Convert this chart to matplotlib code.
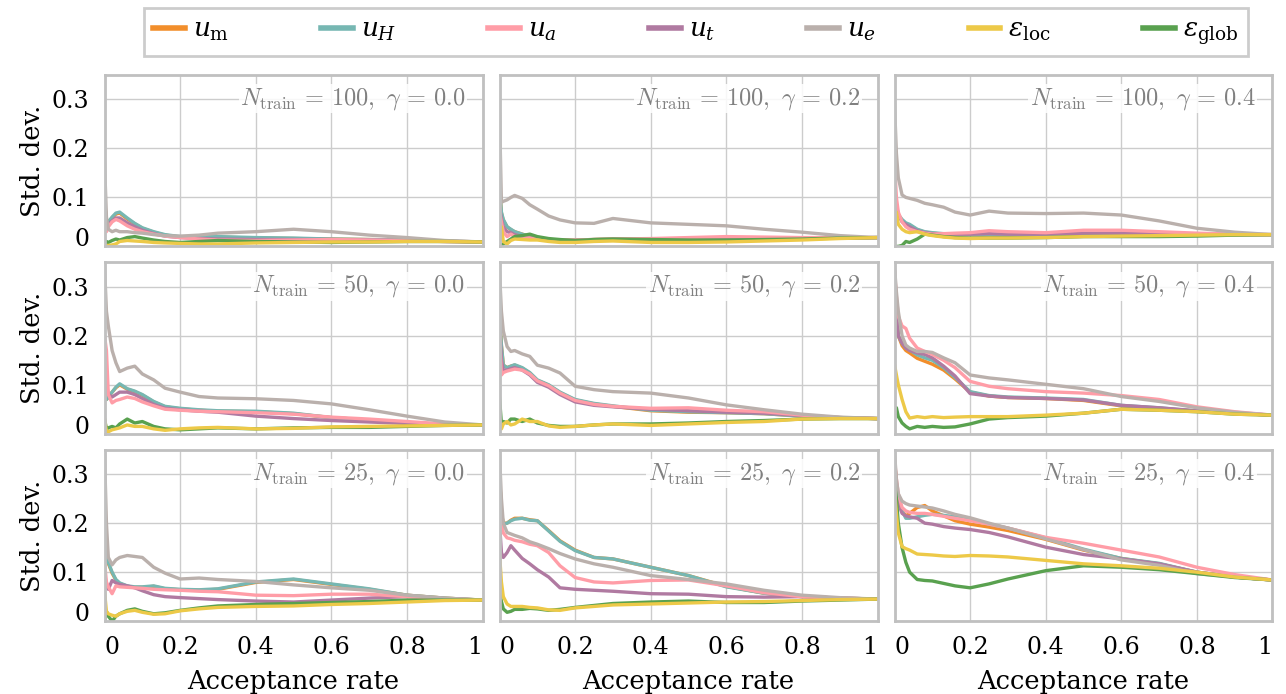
import matplotlib.pyplot as plt
from matplotlib.lines import Line2D

# acceptance rate grid (shared by all panels)
rate = [0, .005, .01, .02, .03, .04, .06, .08, .1, .13, .16, .2, .25, .3, .4, .5, .6, .7, .8, .9, 1.0]

# N_train = 100, gamma = 0.0
a100_00_um = [0.10, 0.045, 0.05, 0.058, 0.066, 0.068, 0.056, 0.046, 0.037, 0.029, 0.023, 0.019, 0.019, 0.019, 0.017, 0.016, 0.015, 0.014, 0.013, 0.011, 0.009]
a100_00_uH = [0.10, 0.04, 0.05, 0.06, 0.068, 0.07, 0.058, 0.047, 0.038, 0.03, 0.024, 0.02, 0.02, 0.02, 0.018, 0.017, 0.015, 0.014, 0.013, 0.011, 0.009]
a100_00_ua = [0.09, 0.03, 0.04, 0.05, 0.055, 0.052, 0.042, 0.035, 0.03, 0.025, 0.021, 0.018, 0.015, 0.013, 0.012, 0.013, 0.014, 0.013, 0.012, 0.01, 0.009]
a100_00_ut = [0.09, 0.035, 0.045, 0.052, 0.058, 0.058, 0.048, 0.04, 0.033, 0.026, 0.021, 0.018, 0.016, 0.015, 0.014, 0.014, 0.014, 0.013, 0.012, 0.01, 0.009]
a100_00_ue = [0.17, 0.06, 0.035, 0.03, 0.033, 0.03, 0.03, 0.028, 0.027, 0.024, 0.022, 0.021, 0.023, 0.027, 0.03, 0.035, 0.03, 0.023, 0.018, 0.012, 0.009]
a100_00_el = [0.0, 0.002, 0.002, 0.003, 0.005, 0.01, 0.012, 0.011, 0.01, 0.008, 0.007, 0.006, 0.005, 0.005, 0.007, 0.008, 0.009, 0.009, 0.01, 0.01, 0.009]
a100_00_eg = [0.0, 0.01, 0.008, 0.012, 0.015, 0.013, 0.018, 0.02, 0.017, 0.013, 0.01, 0.008, 0.01, 0.012, 0.01, 0.009, 0.008, 0.009, 0.01, 0.01, 0.009]

# N_train = 100, gamma = 0.2
a100_02_um = [0.12, 0.068, 0.053, 0.04, 0.034, 0.03, 0.025, 0.02, 0.018, 0.014, 0.012, 0.013, 0.014, 0.015, 0.014, 0.013, 0.014, 0.015, 0.016, 0.017, 0.018]
a100_02_uH = [0.12, 0.07, 0.055, 0.04, 0.035, 0.03, 0.025, 0.02, 0.018, 0.014, 0.012, 0.013, 0.014, 0.015, 0.014, 0.013, 0.014, 0.015, 0.016, 0.017, 0.018]
a100_02_ua = [0.07, 0.05, 0.03, 0.02, 0.025, 0.02, 0.018, 0.017, 0.016, 0.014, 0.013, 0.013, 0.014, 0.015, 0.016, 0.018, 0.02, 0.019, 0.018, 0.018, 0.018]
a100_02_ut = [0.08, 0.055, 0.04, 0.03, 0.028, 0.024, 0.02, 0.018, 0.016, 0.014, 0.012, 0.012, 0.013, 0.014, 0.014, 0.014, 0.015, 0.016, 0.016, 0.017, 0.018]
a100_02_ue = [0.27, 0.09, 0.092, 0.095, 0.1, 0.104, 0.098, 0.085, 0.076, 0.062, 0.054, 0.048, 0.047, 0.057, 0.048, 0.045, 0.042, 0.035, 0.029, 0.022, 0.018]
a100_02_el = [0.01, 0.04, 0.01, 0.005, 0.012, 0.015, 0.014, 0.013, 0.013, 0.01, 0.008, 0.008, 0.01, 0.011, 0.008, 0.008, 0.009, 0.011, 0.013, 0.016, 0.018]
a100_02_eg = [0.0, 0.002, 0.005, 0.01, 0.015, 0.02, 0.022, 0.025, 0.02, 0.016, 0.014, 0.012, 0.014, 0.015, 0.014, 0.013, 0.013, 0.014, 0.015, 0.017, 0.018]

# N_train = 100, gamma = 0.4
a100_04_um = [0.1, 0.078, 0.063, 0.053, 0.046, 0.043, 0.034, 0.029, 0.027, 0.025, 0.024, 0.024, 0.023, 0.022, 0.023, 0.024, 0.025, 0.025, 0.025, 0.024, 0.024]
a100_04_uH = [0.1, 0.08, 0.065, 0.055, 0.048, 0.045, 0.035, 0.03, 0.028, 0.026, 0.025, 0.025, 0.024, 0.023, 0.024, 0.025, 0.026, 0.025, 0.025, 0.024, 0.024]
a100_04_ua = [0.17, 0.1, 0.07, 0.05, 0.04, 0.035, 0.03, 0.027, 0.025, 0.026, 0.027, 0.028, 0.032, 0.03, 0.028, 0.033, 0.033, 0.03, 0.027, 0.025, 0.024]
a100_04_ut = [0.12, 0.085, 0.065, 0.05, 0.045, 0.04, 0.032, 0.028, 0.026, 0.025, 0.025, 0.025, 0.026, 0.025, 0.025, 0.027, 0.027, 0.026, 0.025, 0.024, 0.024]
a100_04_ue = [0.29, 0.19, 0.14, 0.105, 0.1, 0.098, 0.094, 0.088, 0.085, 0.08, 0.07, 0.064, 0.072, 0.068, 0.067, 0.068, 0.064, 0.052, 0.037, 0.029, 0.024]
a100_04_el = [0.05, 0.07, 0.045, 0.035, 0.03, 0.028, 0.03, 0.025, 0.022, 0.019, 0.017, 0.016, 0.017, 0.017, 0.018, 0.02, 0.021, 0.022, 0.023, 0.024, 0.024]
a100_04_eg = [0.0, 0.0, 0.0, 0.002, 0.01, 0.008, 0.015, 0.025, 0.023, 0.02, 0.018, 0.017, 0.017, 0.017, 0.018, 0.02, 0.02, 0.02, 0.021, 0.023, 0.024]

# N_train = 50, gamma = 0.0
a50_00_um = [0.135, 0.07, 0.075, 0.085, 0.094, 0.1, 0.091, 0.086, 0.079, 0.065, 0.055, 0.051, 0.048, 0.046, 0.045, 0.041, 0.033, 0.028, 0.023, 0.019, 0.018]
a50_00_uH = [0.137, 0.07, 0.075, 0.085, 0.095, 0.102, 0.092, 0.087, 0.08, 0.066, 0.056, 0.052, 0.049, 0.047, 0.046, 0.042, 0.033, 0.028, 0.023, 0.019, 0.018]
a50_00_ua = [0.2, 0.17, 0.08, 0.063, 0.068, 0.07, 0.075, 0.072, 0.065, 0.057, 0.05, 0.048, 0.046, 0.045, 0.043, 0.04, 0.034, 0.03, 0.025, 0.02, 0.018]
a50_00_ut = [0.15, 0.1, 0.08, 0.075, 0.08, 0.085, 0.085, 0.08, 0.072, 0.06, 0.052, 0.049, 0.046, 0.044, 0.036, 0.031, 0.027, 0.024, 0.021, 0.019, 0.018]
a50_00_ue = [0.34, 0.25, 0.22, 0.17, 0.145, 0.127, 0.134, 0.138, 0.122, 0.11, 0.093, 0.085, 0.076, 0.073, 0.0715, 0.068, 0.061, 0.049, 0.036, 0.024, 0.018]
a50_00_el = [0.03, 0.005, 0.004, 0.008, 0.01, 0.012, 0.018, 0.015, 0.015, 0.01, 0.007, 0.01, 0.012, 0.013, 0.01, 0.011, 0.014, 0.015, 0.016, 0.017, 0.018]
a50_00_eg = [0.03, 0.01, 0.012, 0.015, 0.012, 0.02, 0.03, 0.022, 0.025, 0.015, 0.01, 0.008, 0.01, 0.012, 0.01, 0.012, 0.013, 0.013, 0.015, 0.017, 0.018]

# N_train = 50, gamma = 0.2
a50_02_um = [0.24, 0.18, 0.14, 0.135, 0.138, 0.14, 0.134, 0.124, 0.109, 0.099, 0.084, 0.069, 0.061, 0.056, 0.047, 0.044, 0.043, 0.041, 0.036, 0.033, 0.031]
a50_02_uH = [0.24, 0.18, 0.14, 0.135, 0.138, 0.141, 0.135, 0.125, 0.11, 0.1, 0.085, 0.07, 0.062, 0.057, 0.048, 0.045, 0.043, 0.041, 0.036, 0.033, 0.031]
a50_02_ua = [0.2, 0.12, 0.125, 0.128, 0.13, 0.132, 0.13, 0.122, 0.108, 0.098, 0.083, 0.068, 0.06, 0.056, 0.052, 0.053, 0.048, 0.045, 0.038, 0.033, 0.031]
a50_02_ut = [0.22, 0.15, 0.13, 0.13, 0.133, 0.135, 0.13, 0.12, 0.105, 0.095, 0.08, 0.065, 0.058, 0.055, 0.05, 0.047, 0.044, 0.042, 0.037, 0.033, 0.031]
a50_02_ue = [0.33, 0.25, 0.21, 0.178, 0.168, 0.17, 0.163, 0.158, 0.14, 0.134, 0.124, 0.097, 0.09, 0.086, 0.083, 0.073, 0.059, 0.049, 0.04, 0.034, 0.031]
a50_02_el = [0.03, 0.01, 0.02, 0.025, 0.018, 0.02, 0.03, 0.025, 0.025, 0.016, 0.013, 0.015, 0.018, 0.02, 0.017, 0.02, 0.023, 0.025, 0.03, 0.031, 0.031]
a50_02_eg = [0.073, 0.02, 0.025, 0.022, 0.03, 0.03, 0.025, 0.03, 0.022, 0.017, 0.015, 0.015, 0.018, 0.02, 0.02, 0.022, 0.025, 0.027, 0.03, 0.031, 0.031]

# N_train = 50, gamma = 0.4
a50_04_um = [0.33, 0.25, 0.2, 0.18, 0.17, 0.165, 0.154, 0.148, 0.142, 0.13, 0.112, 0.085, 0.077, 0.074, 0.072, 0.068, 0.057, 0.052, 0.046, 0.042, 0.038]
a50_04_uH = [0.33, 0.25, 0.2, 0.185, 0.175, 0.171, 0.161, 0.155, 0.15, 0.135, 0.115, 0.086, 0.078, 0.075, 0.073, 0.07, 0.058, 0.053, 0.046, 0.042, 0.038]
a50_04_ua = [0.33, 0.28, 0.24, 0.22, 0.215, 0.195, 0.175, 0.168, 0.162, 0.15, 0.135, 0.107, 0.097, 0.092, 0.086, 0.083, 0.078, 0.07, 0.055, 0.045, 0.038]
a50_04_ut = [0.33, 0.25, 0.2, 0.185, 0.175, 0.17, 0.165, 0.162, 0.155, 0.138, 0.118, 0.082, 0.077, 0.074, 0.072, 0.069, 0.058, 0.053, 0.047, 0.042, 0.038]
a50_04_ue = [0.34, 0.29, 0.25, 0.2, 0.181, 0.175, 0.168, 0.168, 0.166, 0.155, 0.145, 0.12, 0.114, 0.11, 0.101, 0.092, 0.076, 0.066, 0.053, 0.044, 0.038]
a50_04_el = [0.141, 0.12, 0.1, 0.07, 0.045, 0.032, 0.035, 0.033, 0.035, 0.033, 0.034, 0.035, 0.035, 0.035, 0.038, 0.042, 0.05, 0.048, 0.045, 0.04, 0.038]
a50_04_eg = [0.04, 0.053, 0.035, 0.022, 0.015, 0.01, 0.015, 0.013, 0.015, 0.013, 0.014, 0.02, 0.03, 0.033, 0.036, 0.042, 0.05, 0.048, 0.045, 0.04, 0.038]

# N_train = 25, gamma = 0.0
a25_00_um = [0.16, 0.128, 0.118, 0.098, 0.084, 0.077, 0.071, 0.069, 0.069, 0.071, 0.066, 0.064, 0.063, 0.065, 0.079, 0.085, 0.075, 0.065, 0.053, 0.047, 0.043]
a25_00_uH = [0.164, 0.13, 0.12, 0.1, 0.085, 0.078, 0.072, 0.07, 0.07, 0.072, 0.067, 0.065, 0.064, 0.066, 0.08, 0.086, 0.076, 0.066, 0.053, 0.047, 0.043]
a25_00_ua = [0.12, 0.08, 0.07, 0.056, 0.072, 0.07, 0.069, 0.068, 0.067, 0.065, 0.064, 0.063, 0.061, 0.06, 0.053, 0.052, 0.055, 0.055, 0.05, 0.045, 0.043]
a25_00_ut = [0.1, 0.07, 0.065, 0.083, 0.078, 0.075, 0.072, 0.068, 0.062, 0.054, 0.05, 0.048, 0.046, 0.044, 0.041, 0.039, 0.043, 0.047, 0.05, 0.046, 0.043]
a25_00_ue = [0.34, 0.2, 0.13, 0.115, 0.125, 0.13, 0.134, 0.132, 0.13, 0.11, 0.098, 0.086, 0.088, 0.085, 0.081, 0.074, 0.068, 0.063, 0.053, 0.047, 0.043]
a25_00_el = [0.06, 0.02, 0.015, 0.012, 0.01, 0.015, 0.02, 0.022, 0.018, 0.014, 0.015, 0.021, 0.025, 0.028, 0.03, 0.031, 0.034, 0.036, 0.039, 0.042, 0.043]
a25_00_eg = [0.0, 0.02, 0.01, 0.0, 0.01, 0.015, 0.022, 0.025, 0.02, 0.015, 0.017, 0.022, 0.027, 0.031, 0.034, 0.036, 0.038, 0.04, 0.043, 0.043, 0.043]

# N_train = 25, gamma = 0.2
a25_02_um = [0.3, 0.22, 0.2, 0.2, 0.206, 0.21, 0.21, 0.207, 0.205, 0.185, 0.164, 0.145, 0.13, 0.127, 0.11, 0.093, 0.071, 0.057, 0.05, 0.047, 0.045]
a25_02_uH = [0.3, 0.22, 0.198, 0.2, 0.205, 0.208, 0.21, 0.206, 0.205, 0.184, 0.163, 0.144, 0.13, 0.127, 0.11, 0.093, 0.07, 0.057, 0.05, 0.047, 0.045]
a25_02_ua = [0.25, 0.2, 0.18, 0.17, 0.168, 0.165, 0.162, 0.157, 0.154, 0.14, 0.113, 0.089, 0.08, 0.078, 0.083, 0.084, 0.072, 0.058, 0.05, 0.047, 0.045]
a25_02_ut = [0.2, 0.14, 0.13, 0.14, 0.154, 0.145, 0.128, 0.117, 0.105, 0.09, 0.068, 0.065, 0.063, 0.061, 0.056, 0.055, 0.05, 0.049, 0.05, 0.047, 0.045]
a25_02_ue = [0.34, 0.25, 0.2, 0.181, 0.178, 0.175, 0.17, 0.162, 0.157, 0.148, 0.138, 0.127, 0.117, 0.11, 0.093, 0.085, 0.076, 0.063, 0.053, 0.048, 0.045]
a25_02_el = [0.137, 0.08, 0.05, 0.035, 0.03, 0.03, 0.03, 0.028, 0.027, 0.023, 0.022, 0.027, 0.03, 0.033, 0.035, 0.037, 0.039, 0.04, 0.042, 0.044, 0.045]
a25_02_eg = [0.06, 0.04, 0.025, 0.018, 0.02, 0.024, 0.024, 0.026, 0.025, 0.022, 0.024, 0.028, 0.032, 0.036, 0.039, 0.041, 0.038, 0.038, 0.041, 0.043, 0.045]

# N_train = 25, gamma = 0.4
a25_04_um = [0.33, 0.28, 0.25, 0.225, 0.215, 0.22, 0.232, 0.236, 0.225, 0.215, 0.205, 0.198, 0.192, 0.185, 0.167, 0.145, 0.128, 0.117, 0.1, 0.09, 0.084]
a25_04_uH = [0.33, 0.28, 0.25, 0.225, 0.21, 0.21, 0.213, 0.216, 0.218, 0.216, 0.213, 0.208, 0.198, 0.19, 0.17, 0.147, 0.128, 0.118, 0.1, 0.09, 0.084]
a25_04_ua = [0.33, 0.29, 0.26, 0.232, 0.225, 0.222, 0.22, 0.22, 0.218, 0.214, 0.21, 0.205, 0.198, 0.19, 0.171, 0.159, 0.145, 0.131, 0.11, 0.095, 0.084]
a25_04_ut = [0.3, 0.26, 0.24, 0.22, 0.215, 0.213, 0.21, 0.2, 0.198, 0.193, 0.19, 0.187, 0.181, 0.172, 0.151, 0.136, 0.127, 0.117, 0.1, 0.09, 0.084]
a25_04_ue = [0.345, 0.29, 0.26, 0.245, 0.24, 0.237, 0.235, 0.233, 0.231, 0.225, 0.218, 0.211, 0.2, 0.19, 0.168, 0.146, 0.125, 0.114, 0.097, 0.09, 0.084]
a25_04_el = [0.27, 0.22, 0.18, 0.152, 0.148, 0.145, 0.137, 0.136, 0.135, 0.133, 0.132, 0.134, 0.133, 0.131, 0.124, 0.117, 0.113, 0.108, 0.1, 0.09, 0.084]
a25_04_eg = [0.28, 0.25, 0.2, 0.15, 0.12, 0.1, 0.085, 0.083, 0.082, 0.077, 0.072, 0.068, 0.076, 0.086, 0.103, 0.113, 0.11, 0.105, 0.097, 0.089, 0.084]

n_train = [100, 50, 25]
gammas = ['0.0', '0.2', '0.4']

panels = [
    [[a100_00_um, a100_00_uH, a100_00_ua, a100_00_ut, a100_00_ue, a100_00_el, a100_00_eg],
     [a100_02_um, a100_02_uH, a100_02_ua, a100_02_ut, a100_02_ue, a100_02_el, a100_02_eg],
     [a100_04_um, a100_04_uH, a100_04_ua, a100_04_ut, a100_04_ue, a100_04_el, a100_04_eg]],
    [[a50_00_um, a50_00_uH, a50_00_ua, a50_00_ut, a50_00_ue, a50_00_el, a50_00_eg],
     [a50_02_um, a50_02_uH, a50_02_ua, a50_02_ut, a50_02_ue, a50_02_el, a50_02_eg],
     [a50_04_um, a50_04_uH, a50_04_ua, a50_04_ut, a50_04_ue, a50_04_el, a50_04_eg]],
    [[a25_00_um, a25_00_uH, a25_00_ua, a25_00_ut, a25_00_ue, a25_00_el, a25_00_eg],
     [a25_02_um, a25_02_uH, a25_02_ua, a25_02_ut, a25_02_ue, a25_02_el, a25_02_eg],
     [a25_04_um, a25_04_uH, a25_04_ua, a25_04_ut, a25_04_ue, a25_04_el, a25_04_eg]],
]

labels = [r'$u_\mathrm{m}$', r'$u_H$', r'$u_a$', r'$u_t$', r'$u_e$',
          r'$\varepsilon_\mathrm{loc}$', r'$\varepsilon_\mathrm{glob}$']
colors = ['#F28E2B', '#76B7B2', '#FF9DA7', '#B07AA1', '#BAB0AC', '#EDC948', '#59A14F']
draw_order = [0, 1, 3, 2, 4, 6, 5]

plt.rcParams['font.family'] = 'DejaVu Serif'
plt.rcParams['mathtext.fontset'] = 'dejavuserif'

fig, axes = plt.subplots(3, 3, figsize=(12.86, 6.94), dpi=100, sharex=True, sharey=True)
fig.subplots_adjust(left=0.0813, right=0.9895, top=0.892, bottom=0.105, wspace=0.045, hspace=0.093)

for r in range(3):
    for c in range(3):
        ax = axes[r][c]
        for k in draw_order:
            ax.plot(rate, panels[r][c][k], color=colors[k], lw=2.4, solid_joinstyle='round')
        ax.set_xlim(0, 1)
        ax.set_ylim(0, 0.35)
        ax.grid(True, color='#cccccc', lw=1)
        ax.set_axisbelow(True)
        for s in ax.spines.values():
            s.set_color('#c0c0c0')
            s.set_linewidth(2)
        ax.tick_params(length=0, labelsize=17, pad=11)
        ax.text(0.955, 0.86,
                r'$N_{\mathrm{train}}\,=\,%d,\ \gamma\,=\,%s$' % (n_train[r], gammas[c]),
                transform=ax.transAxes, ha='right', va='center', fontsize=17.5,
                color='#808080', math_fontfamily='cm',
                bbox=dict(facecolor='white', edgecolor='none', alpha=0.85, pad=1))

axes[0][0].set_xticks([0, 0.2, 0.4, 0.6, 0.8, 1.0])
axes[0][0].set_yticks([0, 0.1, 0.2, 0.3])
for c in range(3):
    ax = axes[2][c]
    ax.set_xticklabels(['0', '0.2', '0.4', '0.6', '0.8', '1'])
    tl = ax.get_xticklabels()
    tl[0].set_ha('left')
    tl[-1].set_ha('right')
    ax.set_xlabel('Acceptance rate', fontsize=18.5, labelpad=7)
for r in range(3):
    ax = axes[r][0]
    ax.set_yticklabels(['0', '0.1', '0.2', '0.3'])
    ax.get_yticklabels()[0].set_va('baseline')
    ax.set_ylabel('Std. dev.', fontsize=18.5, labelpad=5)

handles = [Line2D([], [], color=colors[k], lw=4) for k in range(7)]
leg = fig.legend(handles, labels, loc='upper center', bbox_to_anchor=(0.541, 0.989), ncol=7,
                 fontsize=19, handlelength=1.2, handletextpad=0.3, columnspacing=3.5,
                 frameon=True, fancybox=False, edgecolor='#c0c0c0', borderpad=0.35,
                 borderaxespad=0)
leg.get_frame().set_linewidth(2)

fig.savefig('out.png', dpi=100)
